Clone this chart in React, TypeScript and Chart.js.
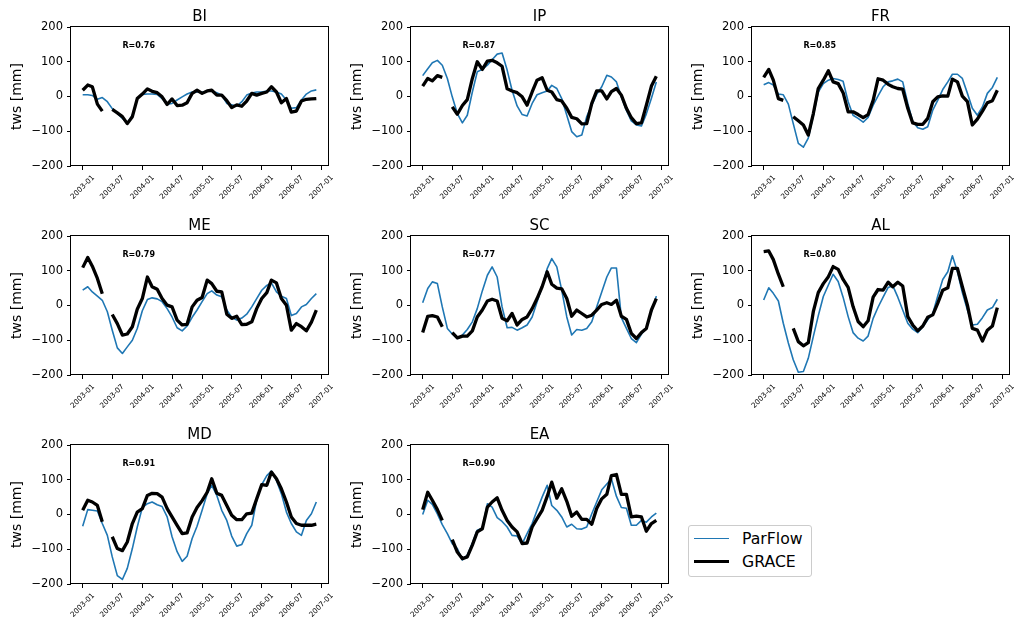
import React, { useEffect, useRef } from 'react';
import { Chart, registerables } from 'chart.js';

Chart.register(...registerables);

// ---------------- data ----------------
const START_YEAR = 2003;
const N_MONTHS = 48;
const MONTHS: string[] = Array.from(
  { length: N_MONTHS },
  (_, i) => `${START_YEAR + Math.floor(i / 12)}-${String((i % 12) + 1).padStart(2, '0')}`
);
const X_TICK_LABELS = ['2003-01', '2003-07', '2004-01', '2004-07', '2005-01', '2005-07', '2006-01', '2006-07', '2007-01'];
const Y_TICKS = [-200, -100, 0, 100, 200];

const REGIONS = ['BI', 'IP', 'FR', 'ME', 'SC', 'AL', 'MD', 'EA'];
const R_LABELS = ['R=0.76', 'R=0.87', 'R=0.85', 'R=0.79', 'R=0.77', 'R=0.80', 'R=0.91', 'R=0.90'];

const BI_PARFLOW = [5, 5, 3, -8, -3, -15, -35, -49, -63, -76, -54, -6, 6, 7, 7, 6, -6, -22, -20, -10, -1, 7, 13, 14, 12, 16, 16, 11, 4, -20, -24, -28, -15, 4, 10, 13, 13, 16, 16, 13, 7, -10, -34, -32, -10, 7, 16, 19];
const BI_GRACE = [18, 33, 28, -22, -42, null, -37, -47, -58, -78, -58, -6, 7, 22, 15, 11, -1, -23, -7, -26, -25, -18, 9, 18, 9, 16, 18, 4, 4, -12, -32, -24, -28, -13, 9, 4, 9, 13, 28, 13, -18, -6, -45, -42, -13, -8, -7, -6];

const IP_PARFLOW = [60, 80, 97, 104, 90, 52, -1, -49, -76, -54, 13, 71, 78, 90, 106, 122, 125, 76, 18, -27, -52, -56, -20, 5, 11, 16, 32, 23, -6, -54, -101, -116, -111, -58, -25, 6, 28, 61, 56, 42, -1, -40, -70, -82, -85, -50, -5, 42];
const IP_GRACE = [30, 52, 45, 60, 55, null, -30, -51, -26, -9, 52, 100, 78, 102, 104, 97, 87, 22, 16, 11, -1, -25, 13, 47, 54, 18, 13, -9, -13, -34, -60, -64, -79, -78, -20, 16, 16, -7, 14, 23, 4, -34, -61, -78, -76, -25, 30, 58];

const FR_PARFLOW = [34, 40, 33, 7, 5, -22, -78, -135, -146, -120, -54, 13, 37, 47, 52, 49, 44, -15, -54, -63, -74, -60, -25, 2, 28, 42, 45, 50, 42, -20, -71, -90, -94, -87, -39, -11, 20, 42, 64, 64, 52, 9, -34, -54, -30, 9, 26, 55];
const FR_GRACE = [55, 78, 47, -6, -11, null, -58, -70, -82, -111, -49, 23, 47, 74, 42, 37, 11, -44, -44, -52, -61, -52, -11, 51, 47, 35, 28, 23, 21, -34, -76, -80, -80, -63, -15, -1, 2, 1, 50, 42, 1, -15, -82, -65, -42, -18, -12, 18];

const ME_PARFLOW = [44, 54, 39, 27, 15, -18, -71, -122, -138, -119, -100, -66, -15, 17, 22, 19, 11, -9, -33, -64, -73, -59, -34, -13, 11, 34, 42, 30, 25, -13, -34, -42, -36, -25, -4, 20, 44, 58, 65, 39, 27, 20, -29, -23, -4, 3, 20, 34];
const ME_GRACE = [109, 138, 113, 78, 34, null, -26, -52, -85, -82, -61, -11, 20, 82, 54, 47, 20, 1, -4, -42, -56, -54, -4, 15, 23, 73, 63, 41, 39, -25, -37, -31, -55, -54, -47, -9, 20, 37, 73, 65, 20, 1, -71, -52, -61, -73, -48, -13];

const SC_PARFLOW = [8, 49, 68, 63, -4, -66, -82, -95, -85, -69, -47, -9, 42, 87, 111, 82, -4, -64, -63, -71, -64, -56, -33, 10, 54, 106, 135, 111, 44, -33, -85, -69, -71, -66, -47, -4, 39, 82, 108, 108, -35, -66, -95, -107, -82, -66, -18, 27];
const SC_GRACE = [-78, -31, -29, -33, -61, null, -78, -93, -88, -88, -73, -33, -13, 13, 18, 13, -37, -44, -23, -56, -40, -33, -9, 20, 54, 97, 61, 50, 48, 20, -31, -13, -23, -33, -28, -13, 3, 8, 3, 15, -31, -40, -80, -95, -78, -66, -13, 20];

const AL_PARFLOW = [16, 51, 35, 13, -51, -108, -156, -192, -190, -152, -89, -30, 26, 59, 90, 69, 24, -32, -78, -94, -102, -88, -37, -5, 24, 52, 57, 24, -13, -51, -68, -78, -61, -41, -23, 27, 75, 97, 143, 97, 37, -13, -56, -54, -35, -13, -6, 18];
const AL_GRACE = [155, 157, 132, 90, 54, null, -66, -104, -116, -107, -17, 37, 63, 83, 112, 104, 75, 52, -3, -46, -61, -44, 24, 46, 44, 67, 54, 67, 56, -32, -56, -73, -59, -34, -27, 6, 44, 51, 107, 107, 54, 1, -66, -71, -102, -71, -59, -6];

const MD_PARFLOW = [-34, 14, 12, 10, -26, -60, -122, -176, -187, -155, -98, -36, 20, 31, 36, 28, 23, -7, -64, -107, -135, -120, -69, -34, 12, 60, 84, 55, 12, -17, -62, -91, -86, -55, -31, 42, 86, 112, 125, 98, 60, 7, -26, -50, -60, -17, 2, 36];
const MD_GRACE = [12, 41, 36, 26, -21, null, -64, -98, -104, -79, -26, 7, 17, 55, 61, 60, 50, 17, -7, -31, -55, -53, -7, 20, 40, 64, 103, 61, 55, 26, -2, -15, -15, 2, 4, 45, 86, 84, 122, 103, 74, 36, -7, -26, -31, -31, -31, -28];

const EA_PARFLOW = [0, 41, 29, 2, -29, -55, -84, -98, -131, -117, -82, -45, -39, 31, 21, -9, -20, -36, -60, -62, -84, -55, -26, 12, 50, 84, 26, 12, -7, -36, -28, -41, -42, -36, 2, 36, 71, 88, 103, 52, 20, 18, -31, -31, -17, -22, -7, 4];
const EA_GRACE = [14, 64, 41, 14, -17, null, -72, -108, -127, -122, -88, -50, -41, 21, 36, 48, 12, -17, -36, -50, -84, -82, -36, -12, 12, 52, 93, 47, 74, 38, -5, 7, -14, -14, -28, 17, 45, 58, 112, 115, 58, 58, -7, -5, -7, -48, -26, -17];

const PARFLOW = [BI_PARFLOW, IP_PARFLOW, FR_PARFLOW, ME_PARFLOW, SC_PARFLOW, AL_PARFLOW, MD_PARFLOW, EA_PARFLOW];
const GRACE = [BI_GRACE, IP_GRACE, FR_GRACE, ME_GRACE, SC_GRACE, AL_GRACE, MD_GRACE, EA_GRACE];

// ---------------- layout ----------------
const COL_LEFT = [71, 411, 752];
const ROW_TOP = [27, 236, 445];
const AX_W = 257;
const AX_H = 139;
const Y_AXIS_W = 71;
const X_AXIS_H = 44;
const PAD_TOP = 27;
const PAD_RIGHT = 6;
const CANVAS_W = Y_AXIS_W + AX_W + PAD_RIGHT;
const CANVAS_H = PAD_TOP + AX_H + X_AXIS_H;

const FONT = 'DejaVu Sans';
const BLUE = '#1f77b4';

const toDay = (s: string) => {
  const [y, m] = s.split('-').map(Number);
  return Date.UTC(y, m - 1, 1) / 86400000;
};

const decorPlugin = {
  id: 'decor',
  afterDraw(chart: any, _args: any, opts: any) {
    const { ctx, chartArea: a, scales } = chart;
    ctx.save();
    // box spines
    ctx.strokeStyle = '#000';
    ctx.lineWidth = 1;
    ctx.strokeRect(a.left - 0.5, a.top - 0.5, a.right - a.left + 1, a.bottom - a.top);
    ctx.fillStyle = '#000';
    // title
    ctx.font = `15px "${FONT}"`;
    ctx.textAlign = 'center';
    ctx.textBaseline = 'alphabetic';
    ctx.fillText(opts.title, (a.left + a.right) / 2, a.top - 6.5);
    // R label
    ctx.font = `bold 8px "${FONT}"`;
    ctx.textAlign = 'left';
    ctx.fillText(opts.r, a.left + 0.2 * (a.right - a.left), a.top + 0.148 * (a.bottom - a.top));
    // rotated x tick labels
    ctx.font = `7.3px "${FONT}"`;
    ctx.textAlign = 'center';
    ctx.textBaseline = 'middle';
    for (const lab of X_TICK_LABELS) {
      const px = scales.x.getPixelForValue(toDay(lab));
      ctx.save();
      ctx.translate(px, a.bottom + 21.3);
      ctx.rotate(-Math.PI / 4);
      ctx.fillText(lab, 0, 0);
      ctx.restore();
    }
    ctx.restore();
  },
};

function Panel({ idx }: { idx: number }) {
  const ref = useRef<HTMLCanvasElement>(null);
  useEffect(() => {
    const canvas = ref.current;
    if (!canvas) return;
    const days = MONTHS.map(toDay);
    const span = days[days.length - 1] - days[0];
    const xMin = days[0] - 0.05 * span;
    const xMax = days[days.length - 1] + 0.05 * span;
    const chart = new Chart(canvas, {
      type: 'line',
      data: {
        datasets: [
          {
            label: 'GRACE',
            data: GRACE[idx].map((v, i) => ({ x: days[i], y: v })),
            borderColor: '#000',
            borderWidth: 3.3,
            pointRadius: 0,
            tension: 0,
            spanGaps: false,
            borderJoinStyle: 'round',
            order: 0,
          },
          {
            label: 'ParFlow',
            data: PARFLOW[idx].map((v, i) => ({ x: days[i], y: v })),
            borderColor: BLUE,
            borderWidth: 1.6,
            pointRadius: 0,
            tension: 0,
            borderJoinStyle: 'round',
            order: 1,
          },
        ],
      } as any,
      options: {
        animation: false,
        responsive: false,
        devicePixelRatio: 1,
        events: [],
        layout: { padding: { top: PAD_TOP, right: PAD_RIGHT, left: 0, bottom: 0 } },
        plugins: {
          legend: { display: false },
          tooltip: { enabled: false },
          title: { display: false },
          decor: { title: REGIONS[idx], r: R_LABELS[idx] },
        } as any,
        scales: {
          x: {
            type: 'linear',
            min: xMin,
            max: xMax,
            afterBuildTicks: (s: any) => {
              s.ticks = X_TICK_LABELS.map((l) => ({ value: toDay(l) }));
            },
            ticks: { display: false },
            grid: { display: true, drawOnChartArea: false, drawTicks: true, tickLength: 4, tickColor: '#000', tickWidth: 1 },
            border: { display: false },
            afterFit: (s: any) => {
              s.height = X_AXIS_H;
            },
          },
          y: {
            type: 'linear',
            min: -200,
            max: 200,
            afterBuildTicks: (s: any) => {
              s.ticks = Y_TICKS.map((v) => ({ value: v }));
            },
            ticks: {
              font: { family: FONT, size: 11.5 },
              color: '#000',
              padding: 4,
              callback: (v: any) => (Number(v) < 0 ? '\u2212' + Math.abs(Number(v)) : String(v)),
            },
            grid: { display: true, drawOnChartArea: false, drawTicks: true, tickLength: 4, tickColor: '#000', tickWidth: 1 },
            border: { display: false },
            title: {
              display: true,
              text: 'tws [mm]',
              font: { family: FONT, size: 14 },
              color: '#000',
              padding: { top: 9, bottom: 0 },
            },
            afterFit: (s: any) => {
              s.width = Y_AXIS_W;
            },
          },
        } as any,
      },
      plugins: [decorPlugin as any],
    });
    return () => chart.destroy();
  }, [idx]);
  const col = idx % 3;
  const row = Math.floor(idx / 3);
  return (
    <canvas
      ref={ref}
      width={CANVAS_W}
      height={CANVAS_H}
      style={{
        position: 'absolute',
        left: COL_LEFT[col] - Y_AXIS_W,
        top: ROW_TOP[row] - PAD_TOP,
        width: CANVAS_W,
        height: CANVAS_H,
      }}
    />
  );
}

function Legend() {
  const text: React.CSSProperties = {
    position: 'absolute',
    left: 53,
    fontFamily: FONT,
    fontSize: 15.7,
    lineHeight: '18px',
    color: '#000',
    whiteSpace: 'nowrap',
  };
  return (
    <div
      style={{
        position: 'absolute',
        left: 688,
        top: 525,
        width: 122,
        height: 50,
        border: '1px solid #cccccc',
        borderRadius: 3,
        background: '#fff',
      }}
    >
      <div style={{ position: 'absolute', left: 5, top: 11.9, width: 35, height: 1.6, background: BLUE }} />
      <div style={{ ...text, top: 4 }}>ParFlow</div>
      <div style={{ position: 'absolute', left: 5, top: 33.6, width: 35, height: 3.3, background: '#000' }} />
      <div style={{ ...text, top: 27 }}>GRACE</div>
    </div>
  );
}

export default function App() {
  return (
    <div
      style={{
        position: 'absolute',
        left: 0,
        top: 0,
        width: 1016,
        height: 624,
        overflow: 'hidden',
        background: '#fff',
      }}
    >
      {REGIONS.map((_, i) => (
        <Panel key={i} idx={i} />
      ))}
      <Legend />
    </div>
  );
}
